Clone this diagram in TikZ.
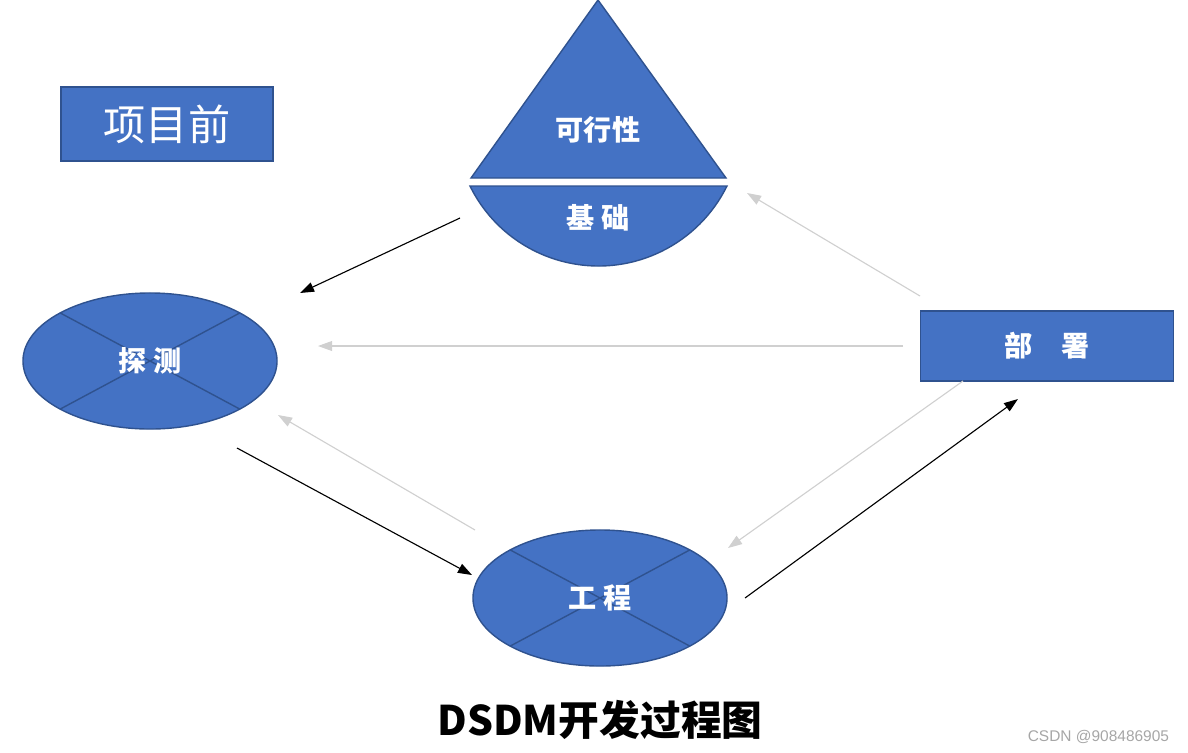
\documentclass[tikz,border=0pt]{standalone}
\usepackage{fontspec}
\setmainfont{Liberation Sans}
\newfontfamily\cjk{Noto Sans CJK SC}
\usetikzlibrary{arrows.meta,shapes.geometric}
\definecolor{boxblue}{HTML}{4472C4}
\definecolor{boxedge}{HTML}{2F528F}
\definecolor{pale}{HTML}{D0D0D0}

\begin{document}
\begin{tikzpicture}[x=0.025cm, y=-0.025cm, >={Triangle[length=10pt,width=7pt]},
    blk/.style={draw=boxedge, fill=boxblue, line width=1pt},
    lbl/.style={text=white, font=\cjk\bfseries\fontsize{20}{20}\selectfont},
    crossed/.style={blk, ellipse, inner sep=0pt, minimum width=6.35cm, minimum height=3.4cm,
        path picture={\draw[boxedge, line width=1pt]
            (path picture bounding box.north west) -- (path picture bounding box.south east)
            (path picture bounding box.south west) -- (path picture bounding box.north east);}},
    go/.style={->, black, line width=0.8pt},
    back/.style={->, pale, line width=0.8pt}]

    \useasboundingbox (0,0) rectangle (1188,752);

    % Nodes
    \node[blk, minimum width=5.3cm, minimum height=1.85cm, text=white,
        font=\cjk\fontsize{30}{30}\selectfont] (pre) at (167,124) {项目前};

    % Feasibility triangle and foundation segment
    \draw[blk] (471,178) -- (598,0) -- (726,178) -- cycle;
    \node[lbl] (feas) at (598,130) {可行性};
    \draw[blk] (470,186) arc[start angle=153.8, end angle=26.2, radius=143.2] -- cycle;
    \node[lbl] (base) at (598,218) {基 础};

    \node[crossed, lbl] (probe) at (150,361) {探 测};
    \node[crossed, lbl] (eng) at (600,598) {工 程};
    \node[blk, lbl, minimum width=6.33cm, minimum height=1.75cm] (deploy) at (1047,346) {部\quad 署};

    % Arrow ends
    \coordinate (base-out) at (460,218);   \coordinate (probe-in) at (300,293);
    \coordinate (deploy-w) at (903,346);   \coordinate (probe-e) at (318,346);
    \coordinate (deploy-nw) at (920,296);  \coordinate (base-in) at (747,193);
    \coordinate (probe-out) at (237,448);  \coordinate (eng-in) at (472,575);
    \coordinate (eng-nw) at (475,530);     \coordinate (probe-se) at (278,415);
    \coordinate (deploy-sw) at (963,381);  \coordinate (eng-ne) at (728,548);
    \coordinate (eng-out) at (745,598);    \coordinate (deploy-in) at (1018,399);

    % Forward flow
    \draw[go] (base-out) -- (probe-in);
    \draw[go] (probe-out) -- (eng-in);
    \draw[go] (eng-out) -- (deploy-in);

    % Feedback
    \draw[back] (deploy-w) -- (probe-e);
    \draw[back] (deploy-nw) -- (base-in);
    \draw[back] (eng-nw) -- (probe-se);
    \draw[back] (deploy-sw) -- (eng-ne);

    % Caption
    \node[font=\cjk\bfseries\fontsize{29}{29}\selectfont] (title) at (600,720) {DSDM开发过程图};
    \node[anchor=east, text=gray!70, font=\fontsize{11}{11}\selectfont] (mark) at (1174,737) {CSDN @908486905};
\end{tikzpicture}
\end{document}
